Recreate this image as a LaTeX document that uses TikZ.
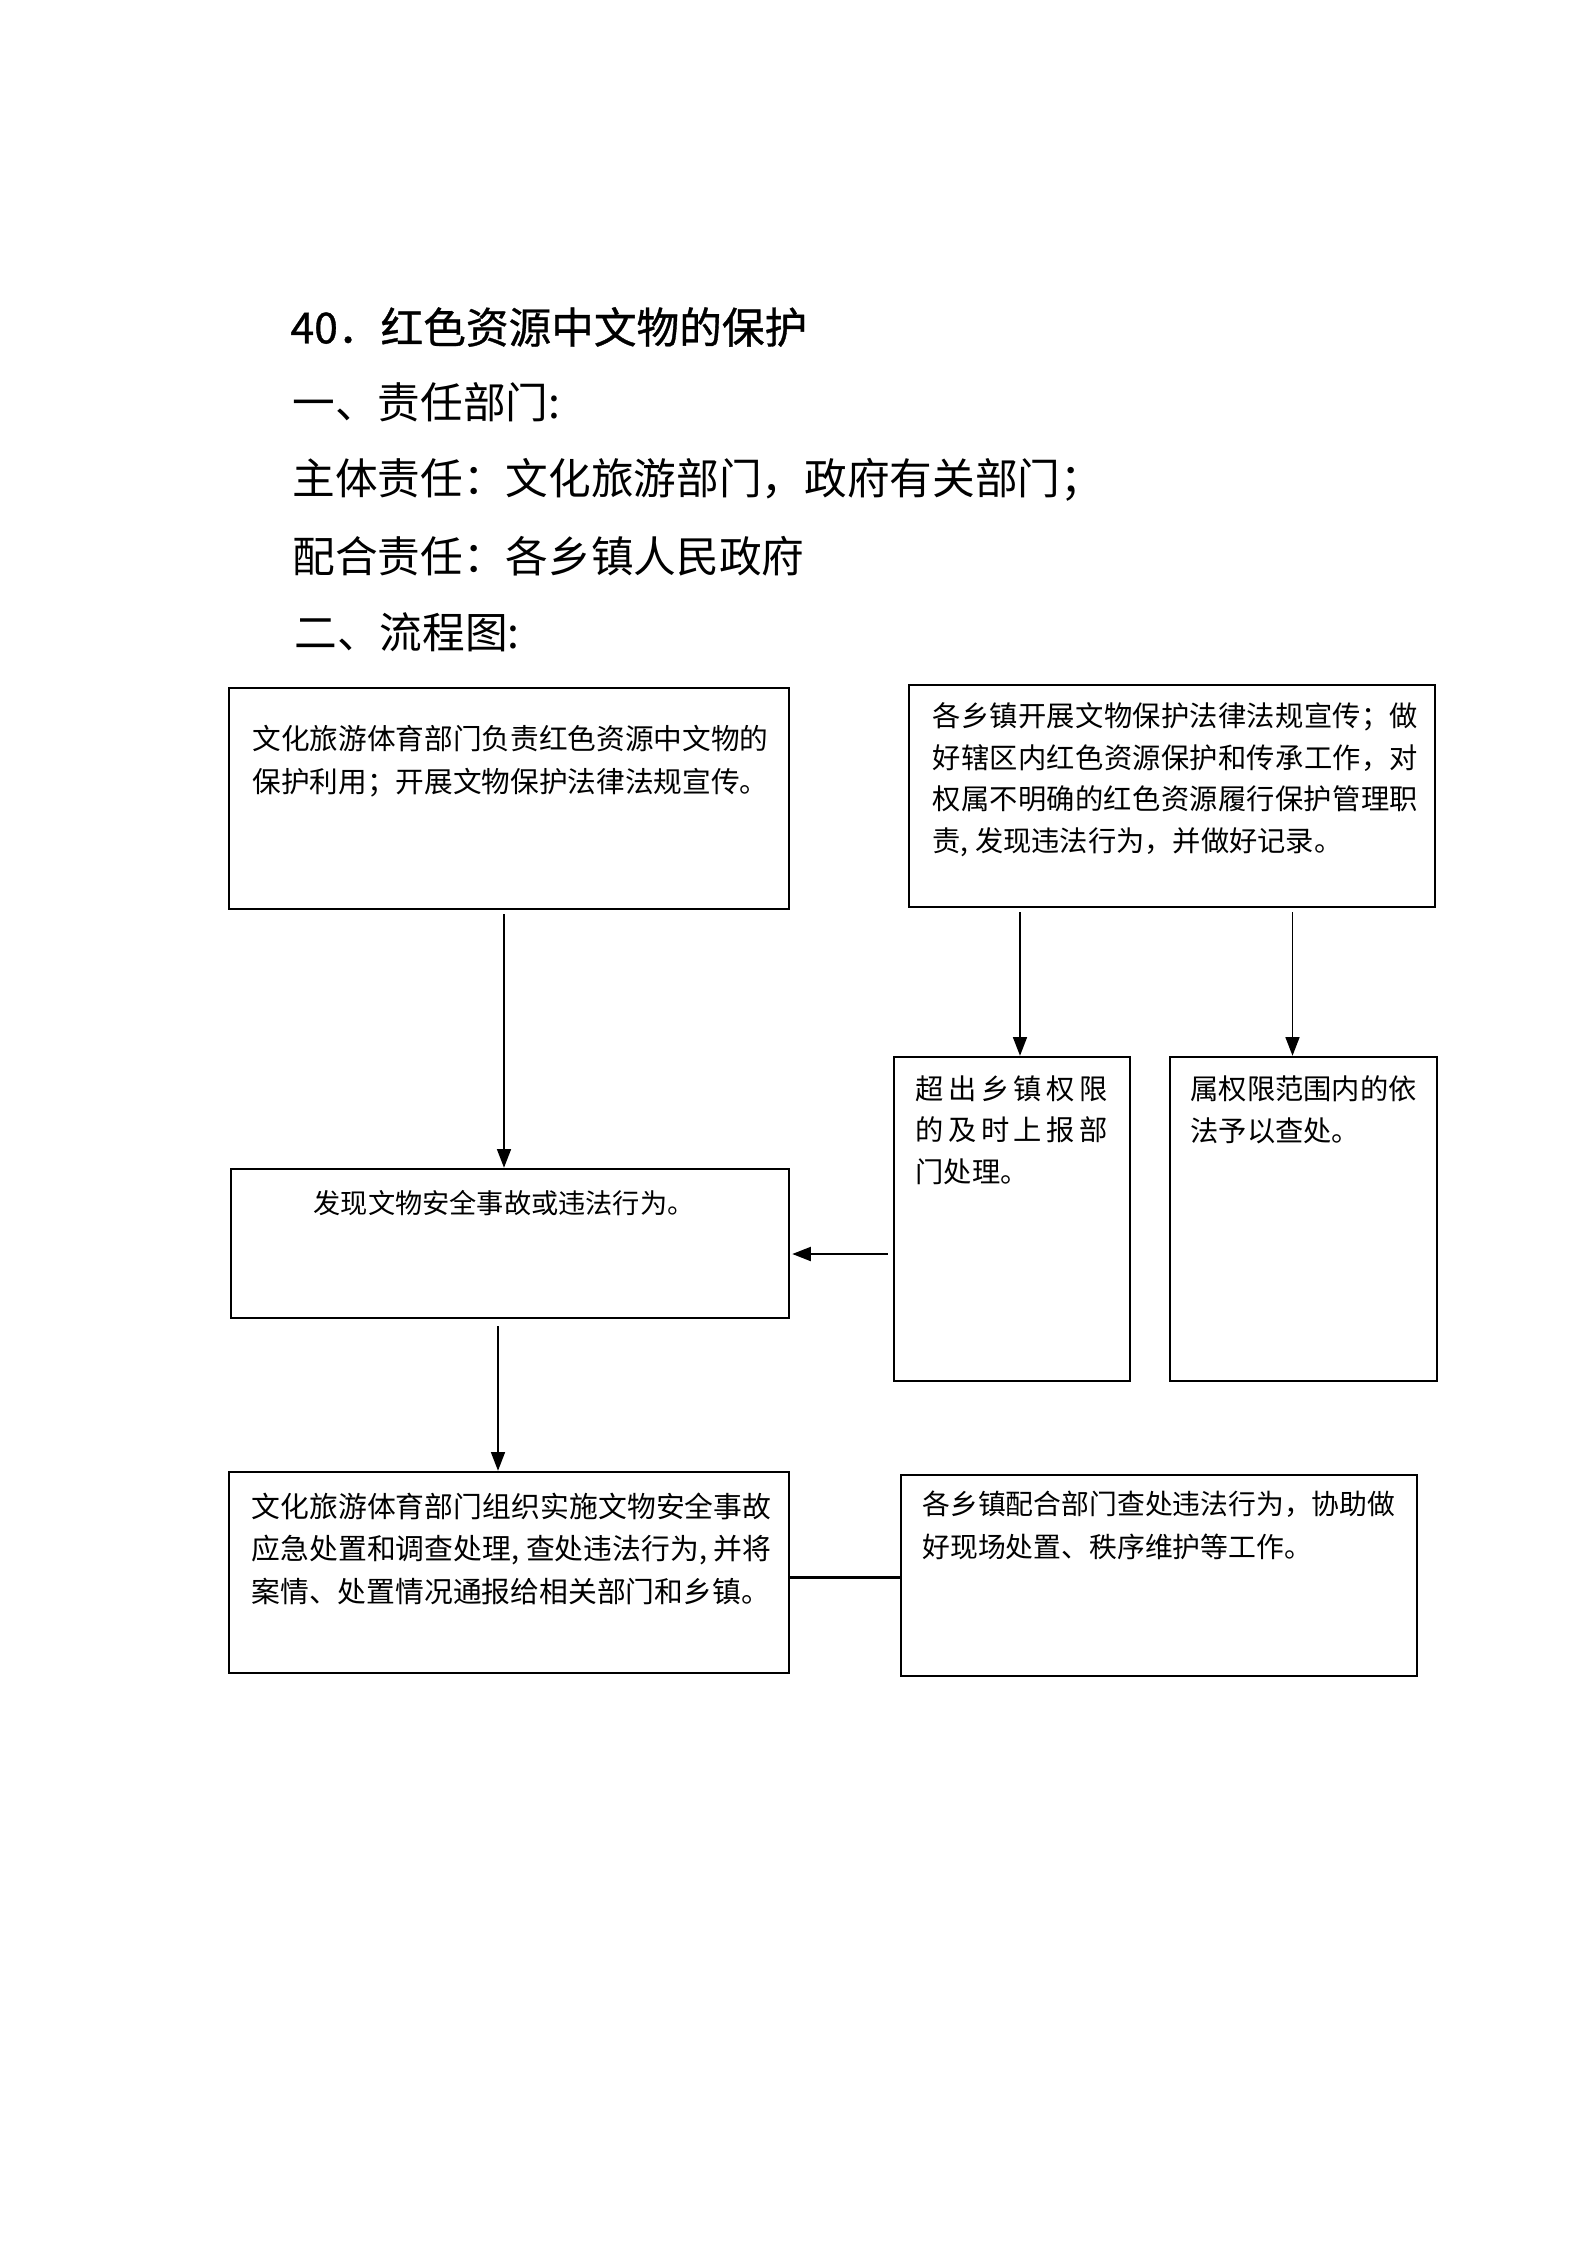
\documentclass[tikz,border=0pt]{standalone}
\usepackage{fontspec}
\setmainfont{Noto Sans CJK SC}
\newfontfamily\titlefont[FakeBold=0.8]{Noto Sans CJK SC}
\usetikzlibrary{arrows.meta,calc}
\XeTeXlinebreaklocale "zh"
\XeTeXlinebreakskip=0pt plus 1pt
\begin{document}
\begin{tikzpicture}[x=0.375pt,y=-0.375pt,
  box/.style={draw,line width=0.9pt,inner sep=0pt,rectangle},
  txt/.style={inner sep=0pt,anchor=north west,align=left},
  head/.style={inner sep=0pt,anchor=west,font=\fontsize{16}{16}\selectfont},
  arr/.style={line width=0.7pt,-{Triangle[length=7pt,width=5.2pt]}},
  conn/.style={line width=0.9pt}
]
\useasboundingbox[fill=white] (0,0) rectangle (1587,2245);

% heading lines
\node[head,font=\fontsize{16}{16}\titlefont] (t1) at (290,327) {40．红色资源中文物的保护};
\node[head] (t2) at (292,402) {一、责任部门:};
\node[head] (t3) at (292,480) {主体责任：文化旅游部门，政府有关部门；};
\node[head] (t4) at (292,556) {配合责任：各乡镇人民政府};
\node[head] (t5) at (294,632) {二、流程图:};

% boxes
\node[box,minimum width=210pt,minimum height=82.9pt] (b1) at (509,798.5) {};
\node[box,minimum width=197.25pt,minimum height=83.25pt] (b2) at (1172,796) {};
\node[box,minimum width=209.25pt,minimum height=55.9pt] (b3) at (510,1243.5) {};
\node[box,minimum width=88.5pt,minimum height=121.5pt] (b4) at (1012,1219) {};
\node[box,minimum width=100.1pt,minimum height=121.5pt] (b5) at (1303.5,1219) {};
\node[box,minimum width=210pt,minimum height=75.4pt] (b6) at (509,1572.5) {};
\node[box,minimum width=193.5pt,minimum height=75.4pt] (b7) at (1159,1575.5) {};

% box texts
\node[txt,text width=196pt,font=\fontsize{10.75}{16.1}\selectfont] (x1) at (252,725)
  {文化旅游体育部门负责红色资源中文物的\\保护利用；开展文物保护法律法规宣传。};
\node[txt,text width=182pt,align=justify,font=\fontsize{10.6}{15.6}\selectfont] (x2) at (932,702)
  {各乡镇开展文物保护法律法规宣传；做\linebreak 好辖区内红色资源保护和传承工作，对\linebreak 权属不明确的红色资源履行保护管理职\linebreak 责, 发现违法行为，并做好记录。};
\node[inner sep=0pt,font=\fontsize{10.2}{12}\selectfont] (x3) at (504,1203)
  {发现文物安全事故或违法行为。};
\node[txt,text width=72pt,align=justify,font=\fontsize{10.6}{15.6}\selectfont] (x4) at (915,1075)
  {超出乡镇权限\linebreak 的及时上报部\linebreak 门处理。};
\node[txt,text width=90pt,font=\fontsize{10.6}{15.6}\selectfont] (x5) at (1190,1075)
  {属权限范围内的依\\法予以查处。};
\node[txt,text width=195pt,align=justify,font=\fontsize{10.8}{16.1}\selectfont] (x6) at (251,1492)
  {文化旅游体育部门组织实施文物安全事故\linebreak 应急处置和调查处理, 查处违法行为, 并将\linebreak 案情、处置情况通报给相关部门和乡镇。};
\node[txt,text width=178pt,font=\fontsize{10.43}{16.1}\selectfont] (x7) at (922,1490)
  {各乡镇配合部门查处违法行为，协助做\\好现场处置、秩序维护等工作。};

% connectors
\draw[arr] ($(b1.south)+(-5,4)$) -- ($(b1.south |- b3.north)+(-5,0)$);
\draw[arr] ($(b4.north |- b2.south)+(8,4)$) -- ($(b4.north)+(8,0)$);
\draw[arr] ($(b5.north |- b2.south)+(-11,4)$) -- ($(b5.north)+(-11,0)$);
\draw[arr,line width=0.9pt] ($(b4.west)+(-5,35)$) -- ($(b3.east |- b4.west)+(2,35)$);
\draw[arr] ($(b3.south)+(-12,7)$) -- ($(b3.south |- b6.north)+(-12,0)$);
\draw[conn] ($(b6.east)+(0,5)$) -- ($(b7.west |- b6.east)+(0,5)$);
\end{tikzpicture}
\end{document}
